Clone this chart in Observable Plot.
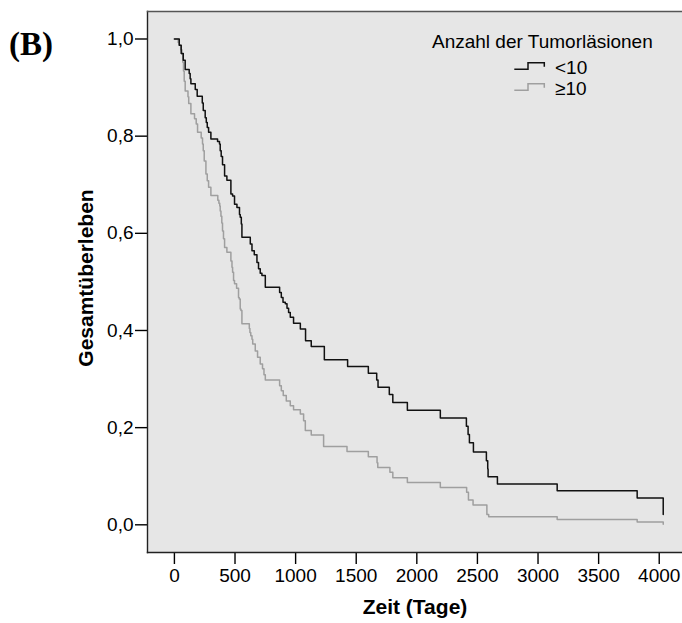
<!DOCTYPE html>
<html><head><meta charset="utf-8">
<script src="https://cdn.jsdelivr.net/npm/d3@7"></script>
<script src="https://cdn.jsdelivr.net/npm/@observablehq/plot@0.6"></script>
<style>
body{margin:0;background:#fff;}
#wrap{position:relative;width:682px;height:623px;overflow:hidden;font-family:"Liberation Sans",Arial,sans-serif;}
#wrap svg.ov{position:absolute;left:0;top:0;pointer-events:none;}
</style></head><body><div id="wrap"></div>
<script>
// Zeit (Tage) at which the Kaplan-Meier estimate drops, and the new value
const lowDays = [0,40,56,73,89,122,130,136,172,188,
  230,238,254,263,271,282,301,356,372,378,
  386,397,414,433,466,480,496,516,537,543,
  552,557,626,640,659,681,694,708,722,750,
  868,882,896,915,929,942,956,983,1039,1082,
  1129,1237,1429,1600,1669,1680,1773,1802,1922,2194,
  2409,2423,2434,2467,2574,2585,2588,2665,3158,3818,
  4033];
const lowSurv = [1.000,0.987,0.970,0.956,0.937,0.929,0.918,0.908,0.896,0.882,
  0.868,0.853,0.838,0.828,0.818,0.808,0.794,0.789,0.784,0.770,
  0.758,0.741,0.718,0.709,0.681,0.677,0.660,0.653,0.639,0.633,
  0.619,0.592,0.578,0.564,0.556,0.540,0.527,0.518,0.513,0.489,
  0.478,0.468,0.458,0.455,0.446,0.437,0.427,0.415,0.403,0.379,
  0.367,0.340,0.326,0.312,0.298,0.283,0.268,0.252,0.236,0.220,
  0.203,0.186,0.169,0.150,0.132,0.115,0.099,0.084,0.070,0.055,
  0.021];
const highDays = [0,31,40,52,62,69,75,81,89,112,
  118,136,166,180,191,221,232,238,246,260,
  271,282,301,358,367,374,378,384,391,397,
  405,414,433,466,475,480,488,496,513,529,
  535,543,549,557,618,623,630,640,646,667,
  686,708,727,739,750,868,882,898,923,956,
  983,1039,1066,1080,1129,1231,1424,1600,1672,1678,
  1778,1802,1922,2194,2411,2426,2464,2578,2593,3158,
  3818,4033];
const highSurv = [1.000,0.993,0.987,0.978,0.969,0.952,0.934,0.913,0.893,0.881,
  0.867,0.846,0.836,0.825,0.808,0.796,0.784,0.770,0.749,0.722,
  0.708,0.695,0.678,0.668,0.662,0.656,0.646,0.635,0.621,0.605,
  0.589,0.571,0.561,0.543,0.530,0.520,0.503,0.496,0.487,0.468,
  0.465,0.444,0.441,0.414,0.404,0.396,0.389,0.382,0.372,0.358,
  0.345,0.331,0.321,0.309,0.298,0.286,0.276,0.266,0.255,0.245,
  0.237,0.228,0.214,0.194,0.185,0.161,0.151,0.140,0.128,0.118,
  0.108,0.097,0.087,0.077,0.067,0.051,0.041,0.021,0.0165,0.011,
  0.006,0.0014];
const xTicks = [0,500,1000,1500,2000,2500,3000,3500,4000];
const yTicks = [0,0.2,0.4,0.6,0.8,1.0];
const groups = ["<10","≥10"];
const legendTitle = "Anzahl der Tumorläsionen";

const low = lowDays.map((d,i)=>({day:d, surv:lowSurv[i]}));
const high = highDays.map((d,i)=>({day:d, surv:highSurv[i]}));

const plot = Plot.plot({
  width:682, height:623,
  marginLeft:147, marginRight:0, marginTop:11, marginBottom:71,
  style:{fontFamily:"'Liberation Sans', Arial, sans-serif", fontSize:"19px", color:"#000", background:"transparent"},
  x:{domain:[-222,4192]},
  y:{domain:[-0.057,1.0566]},
  marks:[
    Plot.frame({fill:"#e6e6e6", stroke:null}),
    Plot.axisX({ticks:xTicks, tickSize:12, tickPadding:4, label:null, tickFormat:d=>String(d), strokeWidth:1.4}),
    Plot.axisY({ticks:yTicks, tickSize:12, tickPadding:2, label:null, tickFormat:d=>d.toFixed(1).replace(".",","), strokeWidth:1.4}),
    Plot.line(high, {x:"day", y:"surv", curve:"step-after", stroke:"#9f9f9f", strokeWidth:1.5}),
    Plot.line(low, {x:"day", y:"surv", curve:"step-after", stroke:"#111", strokeWidth:1.5}),
    Plot.frame({anchor:"left", stroke:"#222", strokeWidth:1.4}),
    Plot.frame({anchor:"bottom", stroke:"#222", strokeWidth:1.4}),
    Plot.frame({anchor:"top", stroke:"#555", strokeWidth:1.4})
  ]
});
const wrap = document.getElementById("wrap");
wrap.appendChild(plot);

const ns = "http://www.w3.org/2000/svg";
const ov = document.createElementNS(ns,"svg");
ov.setAttribute("class","ov");
ov.setAttribute("width",682); ov.setAttribute("height",623);
ov.innerHTML = `
<text x="9" y="55" font-family="'Liberation Serif','Times New Roman',serif" font-weight="bold" font-size="33">(B)</text>
<text transform="translate(93,278) rotate(-90)" text-anchor="middle" font-family="'Liberation Sans',Arial,sans-serif" font-weight="bold" font-size="21">Gesamtüberleben</text>
<text x="415" y="614" text-anchor="middle" font-family="'Liberation Sans',Arial,sans-serif" font-weight="bold" font-size="21">Zeit (Tage)</text>
<text x="432" y="48" font-family="'Liberation Sans',Arial,sans-serif" font-size="19">${legendTitle}</text>
<path d="M514.3,69.3H528V62.7H544.3V66.7" fill="none" stroke="#111" stroke-width="1.5"/>
<text x="555" y="74" font-family="'Liberation Sans',Arial,sans-serif" font-size="19">${groups[0]}</text>
<path d="M514.3,90.3H528V83.7H544.3V87.7" fill="none" stroke="#9f9f9f" stroke-width="1.5"/>
<text x="555" y="95" font-family="'Liberation Sans',Arial,sans-serif" font-size="19">${groups[1]}</text>
`;
wrap.appendChild(ov);
</script></body></html>
